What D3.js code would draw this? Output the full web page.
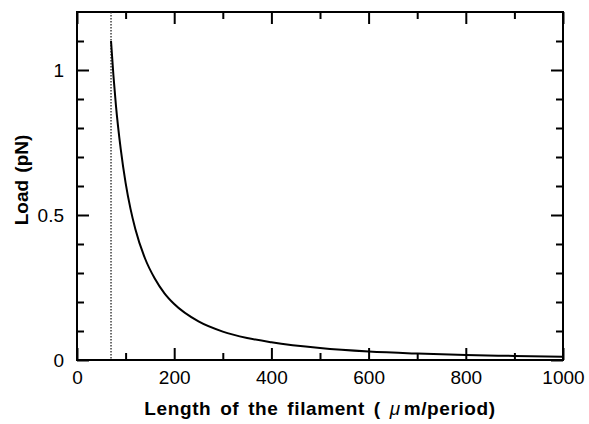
<!DOCTYPE html>
<html><head><meta charset="utf-8">
<script src="https://cdn.jsdelivr.net/npm/d3@7/dist/d3.min.js"></script>
<style>body{margin:0;background:#fff}svg{display:block}</style>
</head><body>
<script>
// Data
const lengths = [70, 75, 80, 90, 100, 110, 120, 140, 160, 180, 200, 250, 300, 350, 400, 500, 600, 700, 800, 900, 1000];
const loads   = [1.10, 0.98, 0.88, 0.727, 0.611, 0.522, 0.452, 0.350, 0.281, 0.230, 0.193, 0.133, 0.098, 0.076, 0.061, 0.041, 0.029, 0.022, 0.017, 0.014, 0.011];
const xMajorTicks = [0, 200, 400, 600, 800, 1000];
const xMinorTicks = [100, 300, 500, 700, 900];
const yMajorTicks = [0, 0.5, 1];
const yMinorTicks = [0.1, 0.2, 0.3, 0.4, 0.6, 0.7, 0.8, 0.9, 1.1];
const yTickLabels = ["0", "0.5", "1"];
const cutoffLength = 70;

const W = 589, H = 424;
const m = {left: 77, right: 26, top: 12, bottom: 64};
const svg = d3.select("body").append("svg").attr("width", W).attr("height", H);
const x = d3.scaleLinear().domain([0, 1000]).range([m.left, W - m.right]);
const y = d3.scaleLinear().domain([0, 1.2]).range([H - m.bottom, m.top]);
const font = "'Liberation Sans', Arial, sans-serif";
const fs = 19;

function styleAxis(g) {
  g.select(".domain").remove();
  g.selectAll("line").attr("stroke", "#000").attr("stroke-width", 2);
  g.selectAll("text").attr("font-family", font).attr("font-size", fs).attr("fill", "#000");
}
const maj = 12, mnr = 7;
// bottom
svg.append("g").attr("transform", `translate(0,${y(0)})`)
  .call(d3.axisBottom(x).tickValues(xMajorTicks).tickSize(-maj).tickPadding(11).tickFormat(d3.format("d")))
  .call(styleAxis);
svg.append("g").attr("transform", `translate(0,${y(0)})`)
  .call(d3.axisBottom(x).tickValues(xMinorTicks).tickSize(-mnr).tickFormat(""))
  .call(styleAxis);
// top
svg.append("g").attr("transform", `translate(0,${y(1.2)})`)
  .call(d3.axisTop(x).tickValues(xMajorTicks).tickSize(-maj).tickFormat(""))
  .call(styleAxis);
svg.append("g").attr("transform", `translate(0,${y(1.2)})`)
  .call(d3.axisTop(x).tickValues(xMinorTicks).tickSize(-mnr).tickFormat(""))
  .call(styleAxis);
// left
svg.append("g").attr("transform", `translate(${x(0)},0)`)
  .call(d3.axisLeft(y).tickValues(yMajorTicks).tickSize(-maj).tickPadding(13).tickFormat((d, i) => yTickLabels[i]))
  .call(styleAxis);
svg.append("g").attr("transform", `translate(${x(0)},0)`)
  .call(d3.axisLeft(y).tickValues(yMinorTicks).tickSize(-mnr).tickFormat(""))
  .call(styleAxis);
// right
svg.append("g").attr("transform", `translate(${x(1000)},0)`)
  .call(d3.axisRight(y).tickValues(yMajorTicks).tickSize(-maj).tickFormat(""))
  .call(styleAxis);
svg.append("g").attr("transform", `translate(${x(1000)},0)`)
  .call(d3.axisRight(y).tickValues(yMinorTicks).tickSize(-mnr).tickFormat(""))
  .call(styleAxis);

// frame
svg.append("rect").attr("x", x(0)).attr("y", y(1.2)).attr("width", x(1000) - x(0)).attr("height", y(0) - y(1.2))
  .attr("fill", "none").attr("stroke", "#000").attr("stroke-width", 2);

// dotted cutoff line
svg.append("line").attr("x1", x(cutoffLength)).attr("x2", x(cutoffLength)).attr("y1", y(1.2)).attr("y2", y(0))
  .attr("stroke", "#222").attr("stroke-width", 1.3).attr("stroke-dasharray", "1.5,1.5");

// curve
const pts = lengths.map((l, i) => [l, loads[i]]);
svg.append("path").datum(pts)
  .attr("d", d3.line().x(d => x(d[0])).y(d => y(d[1])).curve(d3.curveMonotoneX))
  .attr("fill", "none").attr("stroke", "#000").attr("stroke-width", 2);

// axis titles
const xt = svg.append("text").attr("x", 320).attr("y", 415).attr("text-anchor", "middle")
  .attr("font-family", font).attr("font-size", fs).attr("font-weight", "bold")
  .attr("letter-spacing", 0.6).attr("word-spacing", 3);
xt.append("tspan").text("Length of the filament ( ");
xt.append("tspan").attr("font-style", "italic").attr("font-weight", "normal").text("μ");
xt.append("tspan").attr("dx", 3).text("m/period)");

svg.append("text").attr("transform", `translate(28,180) rotate(-90)`).attr("text-anchor", "middle")
  .attr("font-family", font).attr("font-size", fs).attr("font-weight", "bold")
  .attr("word-spacing", 2).text("Load (pN)");
</script>
</body></html>
